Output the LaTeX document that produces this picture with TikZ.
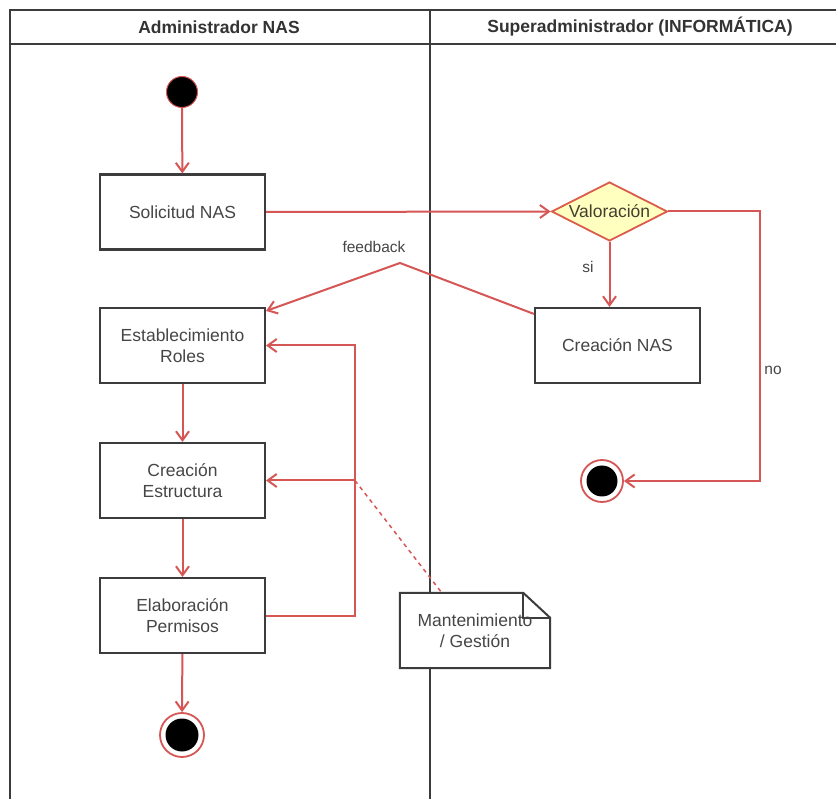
\documentclass[tikz,border=0pt]{standalone}
\usepackage{fontspec}
\setmainfont{Liberation Sans}
\usetikzlibrary{arrows.meta,shapes.geometric}

\definecolor{flow}{RGB}{214,86,86}
\definecolor{frame}{RGB}{60,60,60}
\definecolor{ink}{RGB}{70,70,70}
\definecolor{decfill}{RGB}{255,255,192}

\tikzset{
  lane/.style={draw=frame, line width=2.2pt},
  act/.style={draw=frame, line width=2.1pt, fill=white, rectangle,
    minimum width=165pt, minimum height=75pt, inner sep=2pt,
    align=center, text=ink, font=\fontsize{17.5}{21}\selectfont},
  flowline/.style={draw=flow, line width=2pt},
  flowarrow/.style={flowline, -{Straight Barb[length=9pt,width=13pt,line width=2pt]}},
  initnode/.style={circle, fill=black, draw=flow, line width=1pt, minimum size=31pt, inner sep=0pt},
  endring/.style={circle, draw=flow, line width=1.8pt, fill=white, inner sep=0pt},
  enddot/.style={circle, fill=black, inner sep=0pt},
  decision/.style={diamond, draw=flow!85!orange, line width=1.8pt, fill=decfill,
    minimum width=116pt, minimum height=59pt, inner sep=0pt, shape aspect=2,
    text=black!70!olive, font=\fontsize{17.5}{21}\selectfont},
  lbl/.style={text=ink, font=\fontsize{15.5}{18}\selectfont},
  hdr/.style={text=black!80, font=\bfseries\fontsize{17.5}{21}\selectfont},
  notetext/.style={align=center, text=ink, font=\fontsize{17.5}{21}\selectfont,
    minimum width=150pt, minimum height=75pt, inner sep=0pt},
}

\begin{document}
\begin{tikzpicture}[x=1pt,y=-1pt]
  \useasboundingbox[fill=white] (0,0) rectangle (836,799);

  % swimlane frame
  \draw[lane] (10,799) -- (10,10) -- (836,10);
  \draw[lane] (10,44) -- (836,44);
  \draw[lane] (430,10) -- (430,799);
  \node[hdr] (h1) at (219,27) {Administrador NAS};
  \node[hdr] (h2) at (640,27) {Superadministrador (INFORMÁTICA)};

  % left lane
  \node[initnode] (start) at (182,92) {};
  \node[act] (sol) at (182.5,212) {Solicitud NAS};
  \node[act] (est) at (182.5,345.5) {Establecimiento\\Roles};
  \node[act] (cre) at (182.5,480.5) {Creación\\Estructura};
  \node[act] (ela) at (182.5,615.5) {Elaboración\\Permisos};
  \node[endring, minimum size=44pt] (end1) at (182,735) {};
  \node[enddot, minimum size=33pt] (end1c) at (end1.center) {};

  % right lane
  \node[decision] (val) at (609.5,211.5) {Valoración};
  \node[act] (cnas) at (617.5,345.5) {Creación NAS};
  \node[endring, minimum size=42pt] (end2) at (602,481) {};
  \node[enddot, minimum size=31pt] (end2c) at (end2.center) {};

  % helper points
  \coordinate (nox) at (760,481);
  \coordinate (fb) at (400,263);
  \coordinate (lx) at (355,0);
  \coordinate (jn) at (cre.east -| lx);

  % note with folded corner
  \node[notetext] (note) at (475,630.5) {};
  \draw[flowline, dash pattern=on 4pt off 4pt, line width=1.5pt] (jn) -- ([xshift=42pt]note.north west);
  \draw[draw=frame, line width=2pt, fill=white]
    (note.north west) -- ([xshift=-27pt]note.north east) -- ([yshift=-25pt]note.north east)
    -- (note.south east) -- (note.south west) -- cycle;
  \draw[draw=frame, line width=2pt]
    ([xshift=-27pt]note.north east) -- ([xshift=-27pt,yshift=-25pt]note.north east)
    -- ([yshift=-25pt]note.north east);
  \node[notetext] (notelbl) at (note.center) {Mantenimiento\\/ Gestión};

  % flows
  \draw[flowarrow] (start) -- (sol);
  \draw[flowarrow] (sol.east) -- (val.west);
  \draw[flowarrow] (val.south) -- (val.south |- cnas.north);
  \node[lbl] (si) at (588,267) {si};
  \draw[flowarrow] (val.east) -- (val.east -| nox) -- (nox) -- (end2.east);
  \node[lbl] (no) at (773,370) {no};
  \draw[flowarrow] ([yshift=-7pt]cnas.north west) -- (fb) -- ([yshift=-4pt]est.north east);
  \node[lbl] (fbl) at (374,247) {feedback};
  \draw[flowarrow] (est) -- (cre);
  \draw[flowarrow] (cre) -- (ela);
  \draw[flowarrow] (ela) -- (end1);
  \draw[flowarrow] (ela.east) -- (ela.east -| lx) -- (est.east -| lx) -- (est.east);
  \draw[flowarrow] (jn) -- (cre.east);
\end{tikzpicture}
\end{document}
